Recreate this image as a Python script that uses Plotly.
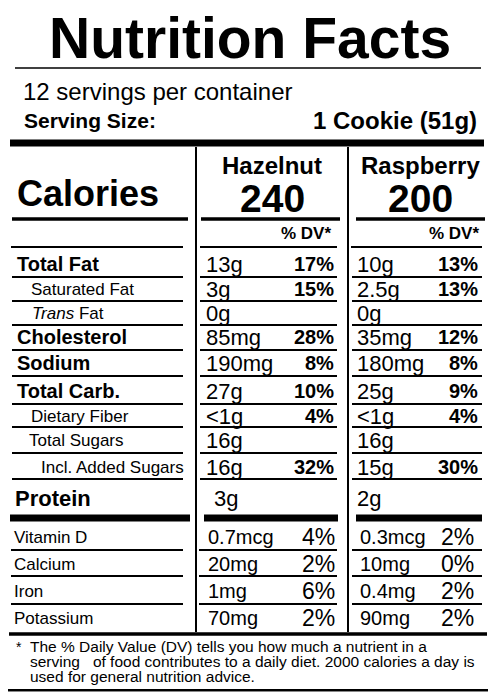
import plotly.graph_objects as go

# nutrient rows
row_labels = ["Total Fat", "Saturated Fat", "<i>Trans</i> Fat", "Cholesterol", "Sodium",
              "Total Carb.", "Dietary Fiber", "Total Sugars", "Incl. Added Sugars", "Protein"]
hazel_amt = ["13g", "3g", "0g", "85mg", "190mg", "27g", "<1g", "16g", "16g", "3g"]
hazel_dv = ["17%", "15%", "", "28%", "8%", "10%", "4%", "", "32%", ""]
rasp_amt = ["10g", "2.5g", "0g", "35mg", "180mg", "25g", "<1g", "16g", "15g", "2g"]
rasp_dv = ["13%", "13%", "", "12%", "8%", "9%", "4%", "", "30%", ""]

# vitamins / minerals
vit_labels = ["Vitamin D", "Calcium", "Iron", "Potassium"]
hazel_vit_amt = ["0.7mcg", "20mg", "1mg", "70mg"]
hazel_vit_dv = ["4%", "2%", "6%", "2%"]
rasp_vit_amt = ["0.3mcg", "10mg", "0.4mg", "90mg"]
rasp_vit_dv = ["2%", "0%", "2%", "2%"]

flavours = ["Hazelnut", "Raspberry"]
calories = ["240", "200"]

FONT = "Liberation Sans"
OFF = 8  # page body margin
shapes = []
ann = []


def line(x0, x1, y, w=2):
    shapes.append(dict(type="line", x0=x0, x1=x1, y0=y, y1=y,
                       line=dict(color="black", width=w)))


def text(x, y, s, size, bold=False, anchor="left"):
    if bold:
        s = "<b>" + s + "</b>"
    ann.append(dict(x=x, y=y, text=s, showarrow=False, xanchor=anchor, yanchor="middle",
                    font=dict(family=FONT, size=size, color="black")))


# frame
shapes.append(dict(type="rect", x0=7, x1=492, y0=4, y1=692, fillcolor="#888",
                   line=dict(width=0)))
shapes.append(dict(type="rect", x0=5, x1=490, y0=2, y1=690, fillcolor="white",
                   line=dict(color="black", width=2)))

text(250, 38, "Nutrition Facts", 57, bold=True, anchor="center")
line(15, 481, 68, 1.5)
text(21, 91, "12 servings per container", 24)
text(22, 120, "Serving Size:", 21, bold=True)
text(479, 120, "1 Cookie (51g)", 24, bold=True, anchor="right")
line(10, 484, 143, 7)

# column dividers
for xv in (196, 348):
    shapes.append(dict(type="line", x0=xv, x1=xv, y0=147, y1=632,
                       line=dict(color="black", width=2)))

text(15, 193, "Calories", 36, bold=True)
for cx, name, cal in zip((272, 420), flavours, calories):
    text(cx, 165, name, 24, bold=True, anchor="center")
    text(cx, 198, cal, 39, bold=True, anchor="center")
line(12, 188, 219, 3.5)
line(201, 340, 219, 3.5)
line(356, 485, 219, 3.5)
text(333, 233, "% DV*", 17, bold=True, anchor="right")
text(481, 233, "% DV*", 17, bold=True, anchor="right")
for x0, x1 in ((11, 183), (200, 337), (351, 482)):
    line(x0, x1, 247)

row_y = [264, 289, 313, 337, 363, 391, 416, 440, 467, 498]
line_y = [277, 301, 325, 350, 376, 404, 427, 453, 479]
row_x = [15, 29, 30, 15, 15, 15, 29, 27, 39, 13]
row_bold = [True, False, False, True, True, True, False, False, False, True]
for i, lab in enumerate(row_labels):
    big = row_bold[i]
    size = 22 if lab == "Protein" else (20 if big else 17)
    text(row_x[i], row_y[i], lab, size, bold=big)
    ax = 212 if lab == "Protein" else 204
    text(ax, row_y[i], hazel_amt[i], 22)
    text(336, row_y[i], hazel_dv[i], 20, bold=True, anchor="right")
    text(355, row_y[i], rasp_amt[i], 22)
    text(480, row_y[i], rasp_dv[i], 20, bold=True, anchor="right")
for y in line_y:
    line(12, 183, y)
    line(200, 337, y)
    line(352, 482, y)

# thick bar under protein
line(10, 190, 518, 7)
line(204, 338, 518, 7)
line(356, 482, 518, 7)

vit_y = [537, 564, 591, 618]
vit_line = [550, 576, 604]
for i, lab in enumerate(vit_labels):
    text(12, vit_y[i], lab, 17)
    text(206, vit_y[i], hazel_vit_amt[i], 20)
    text(337, vit_y[i], hazel_vit_dv[i], 23, anchor="right")
    text(358, vit_y[i], rasp_vit_amt[i], 20)
    text(476, vit_y[i], rasp_vit_dv[i], 23, anchor="right")
for y in vit_line:
    line(11, 183, y)
    line(199, 337, y)
    line(352, 482, y)

line(9, 487, 634, 3.5)
text(14, 647, "*", 14)
text(28, 646, "The % Daily Value (DV) tells you how much a nutrient in a", 15.5)
text(28, 661, "serving   of food contributes to a daily diet. 2000 calories a day is", 15.5)
text(28, 676, "used for general nutrition advice.", 15.5)

fig = go.Figure()
fig.update_layout(
    width=496, height=695, margin=dict(l=0, r=0, t=0, b=0),
    plot_bgcolor="white", paper_bgcolor="white",
    xaxis=dict(range=[OFF, 496 + OFF], visible=False, fixedrange=True),
    yaxis=dict(range=[695 + OFF, OFF], visible=False, fixedrange=True),
    shapes=shapes, annotations=ann, showlegend=False,
)
fig.write_html("out.html")
